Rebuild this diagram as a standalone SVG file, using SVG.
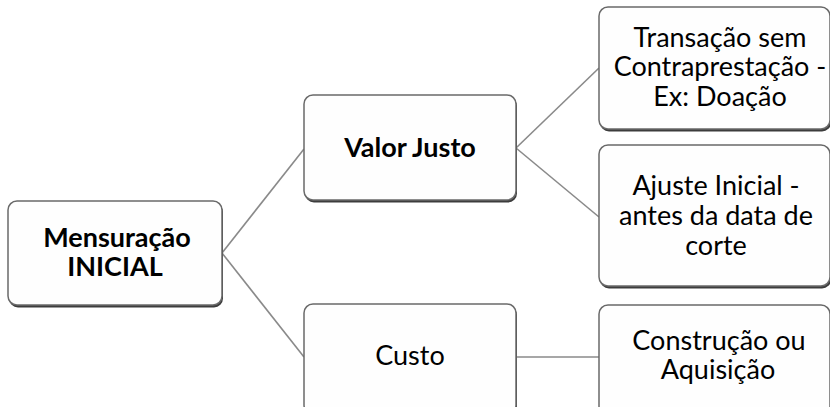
<svg xmlns="http://www.w3.org/2000/svg" width="830" height="407" viewBox="0 0 830 407">
<defs>
<style>
.sh{fill:#3c3c3c}
.bx{fill:#fefefe;stroke:#6a6a6a;stroke-width:1.5}
.t{font-family:Lato,"Open Sans","Liberation Sans",sans-serif;font-size:27px;fill:#000;text-anchor:middle}
.b{font-weight:bold}
.c{stroke:#8a8a8a;stroke-width:1.6;fill:none}
</style>
</defs>
<rect width="830" height="407" fill="#ffffff"/>
<g id="connectors">
<line class="c" x1="222" y1="253" x2="304" y2="149"/>
<line class="c" x1="222" y1="253" x2="304" y2="357"/>
<line class="c" x1="516" y1="148" x2="599" y2="68"/>
<line class="c" x1="516" y1="148" x2="599" y2="217"/>
<line class="c" x1="516" y1="357" x2="599" y2="357"/>
</g>
<g id="n-mensuracao">
<rect class="sh" x="9" y="203" width="214" height="104.5" rx="9"/>
<rect class="bx" x="8" y="201" width="214" height="104" rx="9"/>
<text class="t b" x="117" y="247">Mensuração</text>
<text class="t b" x="115" y="276">INICIAL</text>
</g>
<g id="n-valor-justo">
<rect class="sh" x="305" y="97" width="212" height="105.5" rx="9"/>
<rect class="bx" x="304" y="95" width="212" height="105" rx="9"/>
<text class="t b" x="410" y="157">Valor Justo</text>
</g>
<g id="n-custo">
<rect class="sh" x="305" y="306" width="212" height="110" rx="9"/>
<rect class="bx" x="304" y="304" width="212" height="110" rx="9"/>
<text class="t" x="410" y="365">Custo</text>
</g>
<g id="n-transacao">
<rect class="sh" x="600" y="9" width="231" height="122.5" rx="9"/>
<rect class="bx" x="599" y="7" width="231" height="122" rx="9"/>
<text class="t" x="720" y="47">Transação sem</text>
<text class="t" x="720" y="76">Contraprestação -</text>
<text class="t" x="720" y="106">Ex: Doação</text>
</g>
<g id="n-ajuste">
<rect class="sh" x="600" y="147" width="231" height="141.5" rx="9"/>
<rect class="bx" x="599" y="145" width="231" height="141" rx="9"/>
<text class="t" x="716" y="195">Ajuste Inicial -</text>
<text class="t" x="716" y="225">antes da data de</text>
<text class="t" x="716" y="255">corte</text>
</g>
<g id="n-construcao">
<rect class="sh" x="600" y="307" width="231" height="110" rx="9"/>
<rect class="bx" x="599" y="305" width="231" height="110" rx="9"/>
<text class="t" x="719" y="350">Construção ou</text>
<text class="t" x="718" y="379">Aquisição</text>
</g>
</svg>
